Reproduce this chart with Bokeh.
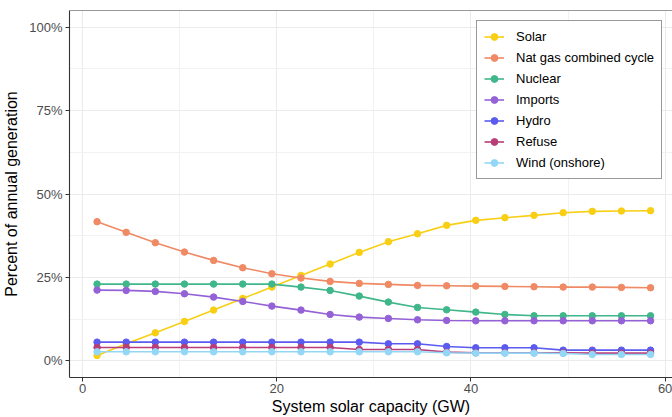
from bokeh.plotting import figure
from bokeh.models import (Range1d, Span, Legend, LegendItem, FixedTicker,
                          CustomJSTickFormatter)
from bokeh.embed import file_html
from bokeh.resources import INLINE

capacity = [1.5, 4.5, 7.5, 10.5, 13.5, 16.5, 19.5, 22.5, 25.5, 28.5,
            31.5, 34.5, 37.5, 40.5, 43.5, 46.5, 49.5, 52.5, 55.5, 58.5]

solar = [1.6, 5.1, 8.4, 11.8, 15.2, 18.7, 22.1, 25.6, 29.0, 32.5,
         35.7, 38.1, 40.6, 42.1, 42.9, 43.6, 44.4, 44.8, 44.9, 45.0]
natgas = [41.7, 38.5, 35.4, 32.6, 30.1, 27.9, 26.1, 24.8, 23.8, 23.2,
          22.9, 22.6, 22.5, 22.4, 22.3, 22.2, 22.1, 22.1, 22.0, 21.9]
nuclear = [23.0, 23.0, 23.0, 23.0, 23.0, 23.0, 23.0, 22.1, 21.1, 19.4,
           17.6, 16.0, 15.3, 14.6, 13.9, 13.5, 13.5, 13.5, 13.5, 13.5]
imports = [21.2, 21.1, 20.8, 20.1, 19.1, 17.8, 16.4, 15.2, 13.9, 13.1,
           12.7, 12.3, 12.1, 12.0, 12.0, 12.0, 12.0, 12.0, 12.0, 12.0]
hydro = [5.6, 5.6, 5.6, 5.6, 5.6, 5.6, 5.6, 5.6, 5.6, 5.6,
         5.1, 5.1, 4.3, 3.9, 3.9, 3.9, 3.2, 3.2, 3.2, 3.2]
refuse = [4.0, 4.0, 4.0, 4.0, 4.0, 4.0, 4.0, 4.0, 4.0, 3.4,
          3.4, 3.4, 2.6, 2.4, 2.4, 2.4, 2.4, 2.3, 2.3, 2.3]
wind = [2.7, 2.7, 2.7, 2.7, 2.7, 2.7, 2.7, 2.7, 2.7, 2.7,
        2.7, 2.7, 2.4, 2.3, 2.3, 2.3, 2.2, 1.9, 1.9, 1.9]

series_names = ["Solar", "Nat gas combined cycle", "Nuclear", "Imports",
                "Hydro", "Refuse", "Wind (onshore)"]
series_values = [solar, natgas, nuclear, imports, hydro, refuse, wind]
series_colors = ["#F8CF14", "#EF8A64", "#40B68B", "#9462D6",
                 "#5B5BF0", "#B83E78", "#93D7F6"]

x_ticks = [0, 20, 40, 60]
y_ticks = [0, 25, 50, 75, 100]

FONT = "Liberation Sans"

p = figure(width=672, height=417, output_backend="svg", toolbar_location=None,
           x_range=Range1d(-1.34, 60.76), y_range=Range1d(-5, 105),
           min_border_left=69, min_border_right=0, min_border_top=10,
           min_border_bottom=40)
p.outline_line_color = None
p.background_fill_color = "white"

# grid
p.xgrid.ticker = FixedTicker(ticks=x_ticks, minor_ticks=[10, 30, 50])
p.ygrid.ticker = FixedTicker(ticks=y_ticks, minor_ticks=[12.5, 37.5, 62.5, 87.5])
for g in (p.xgrid, p.ygrid):
    g.grid_line_color = "#EBEBEB"
    g.grid_line_width = 1.1
    g.minor_grid_line_color = "#F2F2F2"
    g.minor_grid_line_width = 1

# axes
p.xaxis.ticker = FixedTicker(ticks=x_ticks)
p.yaxis.ticker = FixedTicker(ticks=y_ticks)
p.yaxis.formatter = CustomJSTickFormatter(code="return tick + '%';")
for ax in (p.xaxis, p.yaxis):
    ax.axis_line_color = "#333333"
    ax.axis_line_width = 1.1
    ax.major_tick_line_color = "#333333"
    ax.major_tick_out = 4
    ax.major_tick_in = 0
    ax.minor_tick_line_color = None
    ax.major_label_text_font = FONT
    ax.major_label_text_font_size = "13px"
    ax.major_label_text_color = "#4D4D4D"
    ax.axis_label_text_font = FONT
    ax.axis_label_text_font_size = "16px"
    ax.axis_label_text_font_style = "normal"
    ax.axis_label_text_color = "black"
p.xaxis.axis_label = "System solar capacity (GW)"
p.yaxis.axis_label = "Percent of annual generation"
p.xaxis.major_label_standoff = 2
p.xaxis.axis_label_standoff = 2
p.yaxis.major_label_standoff = 3
p.yaxis.axis_label_standoff = 6

# top border
p.add_layout(Span(location=105, dimension="width", line_color="#333333", line_width=1.1))

items = []
for name, vals, col in zip(series_names, series_values, series_colors):
    r1 = p.line(capacity, vals, line_color=col, line_width=1.6)
    r2 = p.scatter(capacity, vals, size=6.5, fill_color=col, line_color=col)
    items.append(LegendItem(label=name, renderers=[r1, r2]))

legend = Legend(items=items, location=(407, 198))
legend.label_text_font = FONT
legend.label_text_font_size = "13px"
legend.label_text_color = "black"
legend.glyph_width = 20
legend.glyph_height = 17
legend.label_height = 17
legend.spacing = 4
legend.padding = 7
legend.margin = 0
legend.label_standoff = 12
legend.border_line_color = "#333333"
legend.border_line_width = 1
legend.background_fill_color = "white"
legend.background_fill_alpha = 1
p.add_layout(legend, "center")

open("out.html", "w").write(file_html(p, INLINE))
